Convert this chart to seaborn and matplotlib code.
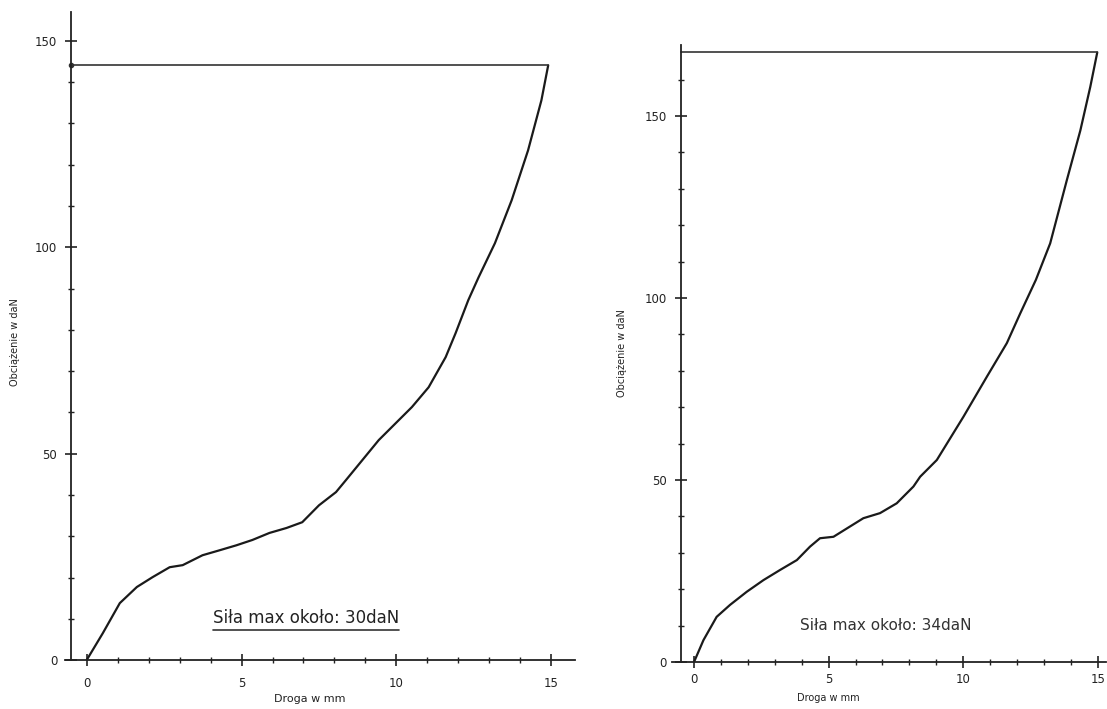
import numpy as np
import matplotlib
matplotlib.use("Agg")
import matplotlib.pyplot as plt
from matplotlib.lines import Line2D
from matplotlib.ticker import MultipleLocator
import seaborn as sns

# left test: path [mm] vs load [daN]
x_left = [0, 0.52, 1.07, 1.62, 2.13, 2.68, 3.1, 3.74, 4.29, 4.83, 5.35, 5.9, 6.45, 6.96,
          7.5, 8.05, 8.37, 9.43, 10.5, 11.04, 11.59, 11.91, 12.32, 12.65, 13.18, 13.72,
          14.25, 14.68, 14.9]
y_left = [0, 6.5, 13.8, 17.7, 20.1, 22.5, 23.0, 25.4, 26.6, 27.8, 29.1, 30.8, 32.0, 33.4,
          37.5, 40.7, 43.6, 53.3, 61.3, 66.1, 73.4, 79.2, 87.2, 92.7, 101, 111.4,
          123.5, 135.6, 144.1]
max_left = 144.1

# right test
x_right = [0, 0.35, 0.84, 1.34, 1.96, 2.58, 3.2, 3.82, 4.31, 4.68, 5.18, 5.68, 6.29, 6.91,
           7.53, 8.15, 8.4, 9.02, 10.01, 10.88, 11.62, 12.12, 12.7, 13.23, 13.85, 14.35,
           14.72, 14.98]
y_right = [0, 6.0, 12.4, 15.7, 19.3, 22.5, 25.3, 28.0, 31.7, 34.0, 34.4, 36.7, 39.5, 40.9,
           43.6, 48.2, 50.9, 55.5, 67.4, 78.4, 87.6, 95.8, 105, 115, 132.4, 146,
           158, 167.5]
max_right = 167.5

note_left = "Siła max około: 30daN"
note_right = "Siła max około: 34daN"

sns.set_style("white")
plt.rcParams['font.family'] = ['DejaVu Sans']

fig = plt.figure(figsize=(11.07, 7.09), dpi=100)
ax1 = fig.add_axes([0.0587, 0.069, 0.4603, 0.914])
ax2 = fig.add_axes([0.607, 0.0663, 0.392, 0.8702])


def style_axes(ax, xlim, ylim):
    ax.set_xlim(*xlim)
    ax.set_ylim(*ylim)
    for s in ['top', 'right']:
        ax.spines[s].set_visible(False)
    ax.spines['left'].set_position(('data', -0.5))
    for s in ['left', 'bottom']:
        ax.spines[s].set_color('#222222')
        ax.spines[s].set_linewidth(1.3)
    ax.xaxis.set_major_locator(MultipleLocator(5))
    ax.xaxis.set_minor_locator(MultipleLocator(1))
    ax.yaxis.set_major_locator(MultipleLocator(50))
    ax.yaxis.set_minor_locator(MultipleLocator(10))
    ax.tick_params(which='both', bottom=True, left=True, top=False, right=False)
    ax.tick_params(which='major', direction='inout', length=8, width=1.2,
                   color='#222222', labelsize=8.5, labelcolor='#222222')
    ax.tick_params(which='minor', direction='inout', length=5, width=1.0, color='#222222')
    ax.tick_params(axis='y', pad=6)


style_axes(ax1, (-0.7, 15.75), (0, 157))
style_axes(ax2, (-0.82, 15.3), (0, 169.5))
ax1.tick_params(axis='x', pad=8)
ax2.tick_params(axis='x', pad=4)

sns.lineplot(x=x_left, y=y_left, ax=ax1, color='#1a1a1a', linewidth=1.6)
sns.lineplot(x=x_right, y=y_right, ax=ax2, color='#1a1a1a', linewidth=1.6)

ax1.plot([-0.5, x_left[-1]], [max_left, max_left], color='#333333', linewidth=1.2)
ax1.plot([-0.5], [max_left], marker='o', markersize=3, color='#333333')
ax2.plot([-0.5, x_right[-1]], [max_right, max_right], color='#333333', linewidth=1.2)

ax1.set_xlabel("Droga w mm", fontsize=8, color='#222222')
ax1.set_ylabel("Obciążenie w daN", fontsize=7, color='#222222')
ax2.set_xlabel("Droga w mm", fontsize=7, color='#222222')
ax2.set_ylabel("Obciążenie w daN", fontsize=7, color='#222222')
ax1.xaxis.set_label_coords(0.48, -0.052)
ax1.yaxis.set_label_coords(-0.088, 0.49)
ax2.xaxis.set_label_coords(0.36, -0.05)
ax2.yaxis.set_label_coords(-0.104, 0.5)

t1 = ax1.text(7.08, 10.2, note_left, ha='center', va='center', fontsize=12, color='#222222')
ax2.text(7.14, 9.9, note_right, ha='center', va='center', fontsize=11, color='#333333')

# underline the left note
fig.canvas.draw()
bb = t1.get_window_extent().transformed(fig.transFigure.inverted())
fig.add_artist(Line2D([bb.x0, bb.x1], [bb.y0 - 0.004, bb.y0 - 0.004],
                      transform=fig.transFigure, color='#333333', linewidth=1.2))

fig.savefig("out.png", dpi=100, facecolor='white')
